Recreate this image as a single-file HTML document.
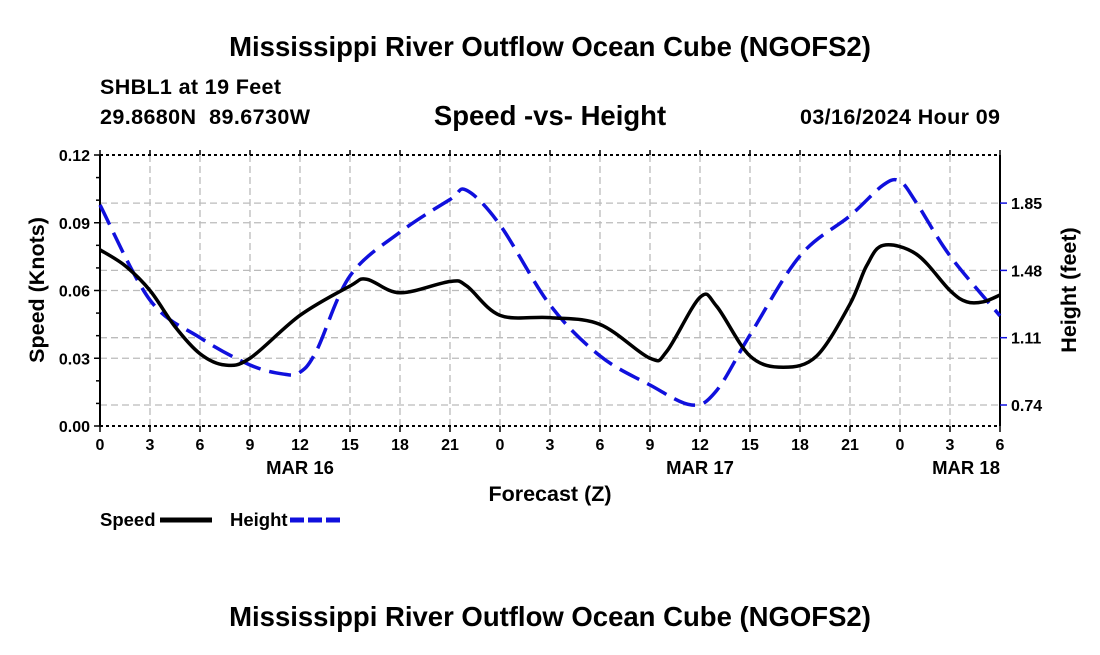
<!DOCTYPE html>
<html><head><meta charset="utf-8"><style>
body{margin:0;background:#fff;font-family:"Liberation Sans",Arial,sans-serif}
svg text{font-family:"Liberation Sans",Arial,sans-serif;font-weight:bold;fill:#000}
</style></head><body>
<svg id="c" width="1100" height="650" xmlns="http://www.w3.org/2000/svg">
<text x="550" y="56" font-size="27.5" text-anchor="middle">Mississippi River Outflow Ocean Cube (NGOFS2)</text>
<text x="100" y="94" font-size="21.5" textLength="181">SHBL1 at 19 Feet</text>
<text x="100" y="124" font-size="21.5" textLength="210" xml:space="preserve">29.8680N  89.6730W</text>
<text x="550" y="125" font-size="27.5" text-anchor="middle">Speed -vs- Height</text>
<text x="1000" y="124" font-size="21.5" text-anchor="end" textLength="200">03/16/2024 Hour 09</text>
<g id="grid"></g>
<g id="axes"></g>
<g id="series"></g>
<text x="550" y="501" font-size="21.5" text-anchor="middle">Forecast (Z)</text>
<text transform="translate(44,290) rotate(-90)" font-size="21.5" text-anchor="middle">Speed (Knots)</text>
<text transform="translate(1076,290) rotate(-90)" font-size="21.5" text-anchor="middle">Height (feet)</text>
<g><text x="100" y="526" font-size="18.5">Speed</text><line x1="160" y1="520" x2="212" y2="520" stroke="#000" stroke-width="5"/></g>
<g><text x="230" y="526" font-size="18.5">Height</text><line x1="290" y1="520" x2="342" y2="520" stroke="#1010dd" stroke-width="5" stroke-dasharray="14,4"/></g>
<text x="550" y="626" font-size="27.5" text-anchor="middle">Mississippi River Outflow Ocean Cube (NGOFS2)</text>
</svg>
<script>
const xTickLabels=["0","3","6","9","12","15","18","21","0","3","6","9","12","15","18","21","0","3","6"];
const dayLabels=["MAR 16","MAR 17","MAR 18"];
const dayHours=[12,36,54];
const speedTicks=[0,0.03,0.06,0.09,0.12];
const heightTicks=[0.74,1.11,1.48,1.85];
const speedHours=[0,1.5,3,4.5,6,7.5,9,12,15,16,18,21,22,24,27,30,33,34,36,37,39,41,43,45,46,47,49,51,52,53,54];
const speedVals=[0.078,0.071,0.060,0.044,0.032,0.027,0.030,0.049,0.062,0.065,0.059,0.064,0.062,0.049,0.048,0.045,0.030,0.033,0.057,0.053,0.031,0.026,0.031,0.054,0.071,0.080,0.076,0.060,0.055,0.055,0.058];
const heightHours=[0,3,6,9,11,12,13,15,18,21,22,24,27,30,33,35.5,37,39,42,45,47,48,49,51,54];
const heightVals=[1.84,1.317,1.11,0.96,0.91,0.92,1.04,1.45,1.69,1.87,1.92,1.73,1.29,1.01,0.85,0.74,0.82,1.125,1.56,1.78,1.95,1.97,1.85,1.56,1.23];
const NS="http://www.w3.org/2000/svg";
const X0=100,X1=1000,YT=155,YB=426;
const x=h=>X0+h/54*(X1-X0);
const yS=v=>YB-v/0.12*(YB-YT);
const yH=v=>405-(v-0.74)/0.37*67.3;
function mk(t,a,p){const e=document.createElementNS(NS,t);for(const k in a)e.setAttribute(k,a[k]);p.appendChild(e);return e;}
const grid=document.getElementById('grid'),axes=document.getElementById('axes'),ser=document.getElementById('series');
const gs={stroke:"#bbb","stroke-width":1.3,"stroke-dasharray":"7,4"};
for(let i=1;i<18;i++){const gl=mk('line',Object.assign({x1:x(i*3),x2:x(i*3),y1:YT,y2:YB},gs),grid);

}
speedTicks.slice(1,-1).forEach(v=>{const gl=mk('line',Object.assign({x1:X0,x2:X1,y1:yS(v),y2:yS(v)},gs),grid);

});
heightTicks.forEach(v=>{const gl=mk('line',Object.assign({x1:X0,x2:X1,y1:yH(v),y2:yH(v)},gs),grid);

});
mk('line',{x1:X0,x2:X1,y1:YT,y2:YT,stroke:"#000","stroke-width":2,"stroke-dasharray":"3,3"},axes);
mk('line',{x1:X0,x2:X1,y1:YB,y2:YB,stroke:"#000","stroke-width":2,"stroke-dasharray":"3,3"},axes);
mk('line',{x1:X0,x2:X0,y1:YT,y2:YB,stroke:"#000","stroke-width":2},axes);
mk('line',{x1:X1,x2:X1,y1:YT,y2:YB,stroke:"#000","stroke-width":2},axes);
xTickLabels.forEach((l,i)=>{mk('line',{x1:x(i*3),x2:x(i*3),y1:YB,y2:YB+6,stroke:"#000","stroke-width":1.5},axes);
mk('line',{x1:x(i*3),x2:x(i*3),y1:YT,y2:YT-5,stroke:"#000","stroke-width":1.5},axes);
const t=mk('text',{x:x(i*3),y:YB+24,"font-size":16,"text-anchor":"middle"},axes);t.textContent=l;

});
dayLabels.forEach((l,i)=>{const t=mk('text',{x:x(dayHours[i]),y:YB+48,"font-size":18.5,"text-anchor":i==2?"end":"middle"},axes);t.textContent=l;

});
for(let v=0;v<=0.1201;v+=0.01){mk('line',{x1:X0-(Math.round(v*100)%3==0?6:4),x2:X0,y1:yS(v),y2:yS(v),stroke:"#000","stroke-width":1.5},axes);}
speedTicks.forEach(v=>{const t=mk('text',{x:X0-10,y:yS(v)+6,"font-size":16,"text-anchor":"end"},axes);t.textContent=v.toFixed(2);

});
heightTicks.forEach(v=>{mk('line',{x1:X1,x2:X1+7,y1:yH(v),y2:yH(v),stroke:"#1010dd","stroke-width":1.5},axes);
const t=mk('text',{x:X1+11,y:yH(v)+6,"font-size":16},axes);t.textContent=v.toFixed(2);

});
function smooth(pts){let d=`M${pts[0][0]},${pts[0][1]}`;for(let i=0;i<pts.length-1;i++){const p0=pts[i-1]||pts[i],p1=pts[i],p2=pts[i+1],p3=pts[i+2]||p2;
d+=` C${p1[0]+(p2[0]-p0[0])/6},${p1[1]+(p2[1]-p0[1])/6} ${p2[0]-(p3[0]-p1[0])/6},${p2[1]-(p3[1]-p1[1])/6} ${p2[0]},${p2[1]}`;}return d;}
const hp=mk('path',{d:smooth(heightHours.map((h,i)=>[x(h),yH(heightVals[i])])),fill:"none",stroke:"#1010dd","stroke-width":3.5,"stroke-dasharray":"22,9"},ser);


const sp=mk('path',{d:smooth(speedHours.map((h,i)=>[x(h),yS(speedVals[i])])),fill:"none",stroke:"#000","stroke-width":3.5},ser);


</script>
</body></html>
